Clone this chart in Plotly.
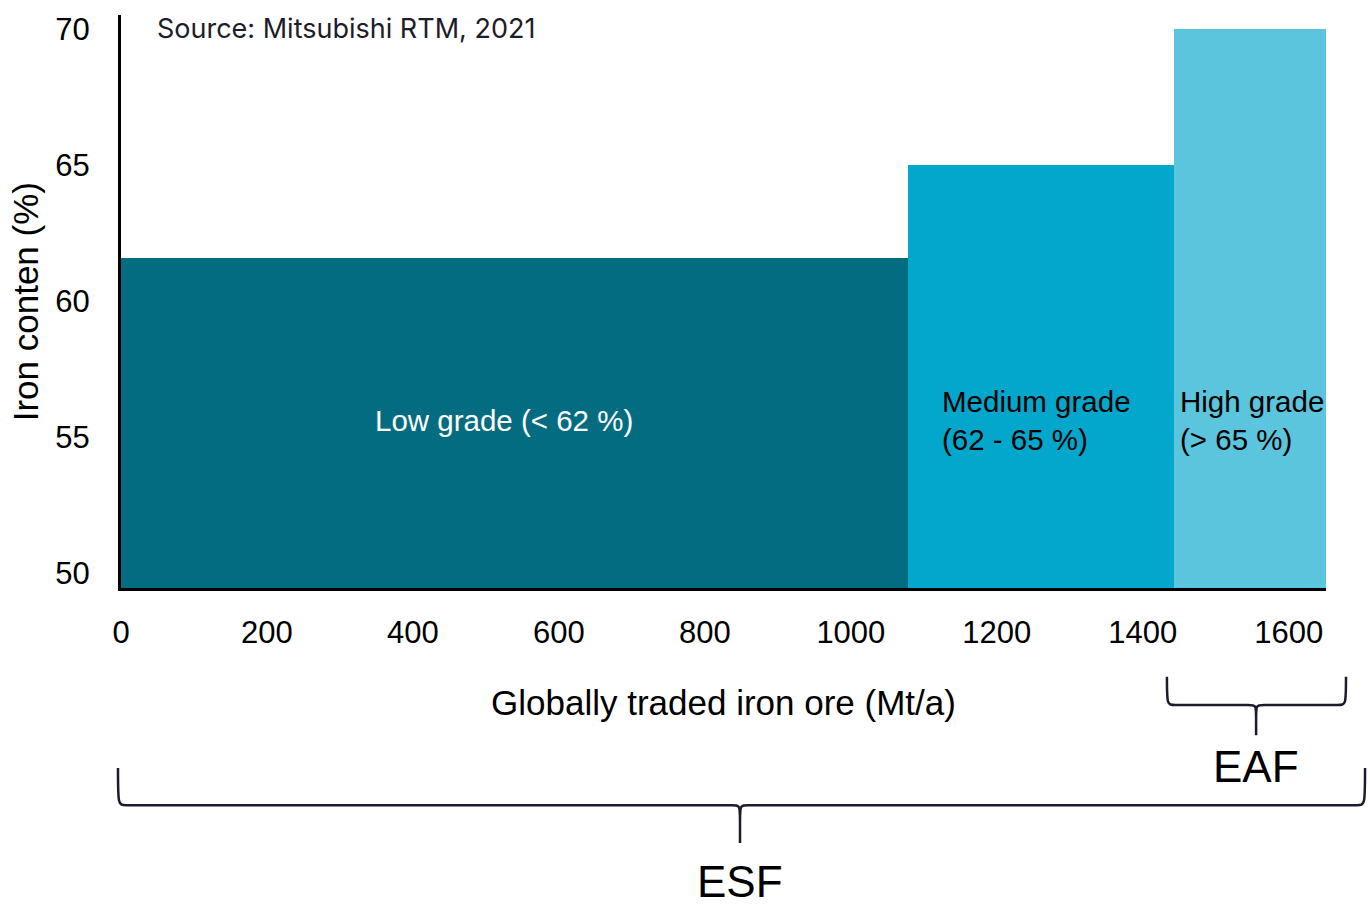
import plotly.graph_objects as go

# Ore grade blocks: cumulative traded volume (Mt/a) on x, iron content (%) on y
grades = ["Low grade (< 62 %)", "Medium grade<br>(62 - 65 %)", "High grade<br>(> 65 %)"]
volume_edges = [0, 1078, 1443, 1651]
iron_content = [61.6, 65.0, 70.0]
bar_colors = ["#046c80", "#03a7cb", "#5ac5dc"]
label_colors = ["white", "black", "black"]

x_ticks = [0, 200, 400, 600, 800, 1000, 1200, 1400, 1600]
y_ticks = [50, 55, 60, 65, 70]

widths = [volume_edges[i + 1] - volume_edges[i] for i in range(len(grades))]
centers = [volume_edges[i] + widths[i] / 2 for i in range(len(grades))]

FONT = "Liberation Sans, Arial, sans-serif"

fig = go.Figure()
fig.add_trace(go.Bar(
    x=centers,
    y=iron_content,
    width=widths,
    marker=dict(color=bar_colors, line=dict(width=0)),
    hoverinfo="skip",
    showlegend=False,
))

# Grade labels inside the blocks
label_x = [centers[0] - 14, volume_edges[1] + 44, volume_edges[2] + 5]
anchors = ["center", "left", "left"]
for i, g in enumerate(grades):
    fig.add_annotation(
        x=label_x[i], y=55.6, text=g, showarrow=False,
        xanchor=anchors[i], yanchor="middle", align="left",
        font=dict(family=FONT, size=29.5, color=label_colors[i]),
    )

fig.add_annotation(
    x=0.028, y=1.008, xref="paper", yref="paper",
    text="Source: Mitsubishi RTM, 2021", showarrow=False,
    xanchor="left", yanchor="top",
    font=dict(family="Inter, sans-serif", size=27, color="#1c1c2a"),
)

# Axis titles
fig.add_annotation(
    x=0.5, y=-0.199, xref="paper", yref="paper",
    text="Globally traded iron ore (Mt/a)", showarrow=False,
    xanchor="center", yanchor="middle",
    font=dict(family=FONT, size=35, color="black"),
)
fig.add_annotation(
    x=-0.079, y=0.5, xref="paper", yref="paper",
    text="Iron conten (%)", showarrow=False, textangle=-90,
    xanchor="center", yanchor="middle",
    font=dict(family=FONT, size=35, color="black"),
)


def brace(x0, x1, xm, y_top, y_mid, y_tip, r=0.007):
    """Curly brace opening upward (paper coords): ends at y_top, bar at y_mid, tip at y_tip."""
    k = (y_mid - y_tip) * 0.45
    return (
        f"M {x0},{y_top} "
        f"C {x0},{y_mid} {x0},{y_mid} {x0 + r},{y_mid} "
        f"L {xm - r},{y_mid} "
        f"C {xm},{y_mid} {xm},{y_mid} {xm},{y_mid - k} "
        f"L {xm},{y_tip} "
        f"M {xm},{y_mid - k} "
        f"C {xm},{y_mid} {xm},{y_mid} {xm + r},{y_mid} "
        f"L {x1 - r},{y_mid} "
        f"C {x1},{y_mid} {x1},{y_mid} {x1},{y_top}"
    )


brace_line = dict(color="#1b1b2b", width=2.5)
fig.add_shape(type="path", xref="paper", yref="paper",
              path=brace(0.868, 1.0166, 0.942, -0.155, -0.204, -0.257),
              line=brace_line)
fig.add_shape(type="path", xref="paper", yref="paper",
              path=brace(-0.0025, 1.0324, 0.5137, -0.314, -0.379, -0.445),
              line=brace_line)

fig.add_annotation(x=0.942, y=-0.311, xref="paper", yref="paper", text="EAF",
                   showarrow=False, xanchor="center", yanchor="middle",
                   font=dict(family=FONT, size=44, color="black"))
fig.add_annotation(x=0.5137, y=-0.513, xref="paper", yref="paper", text="ESF",
                   showarrow=False, xanchor="center", yanchor="middle",
                   font=dict(family=FONT, size=44, color="black"))

fig.update_layout(
    width=1370, height=907,
    margin=dict(l=121, r=44, t=15, b=319),
    paper_bgcolor="white", plot_bgcolor="white",
    bargap=0,
    xaxis=dict(
        range=[0, 1651], tickvals=x_ticks, ticks="",
        showgrid=False, zeroline=False,
        showline=True, linecolor="black", linewidth=3,
        tickfont=dict(family=FONT, size=31, color="black"),
        ticklabelstandoff=15,
    ),
    yaxis=dict(
        range=[49.45, 70.52], tickvals=y_ticks, ticks="",
        showgrid=False, zeroline=False,
        showline=True, linecolor="black", linewidth=3,
        tickfont=dict(family=FONT, size=31, color="black"),
        ticklabelstandoff=22,
    ),
)

fig.write_html("out.html")
